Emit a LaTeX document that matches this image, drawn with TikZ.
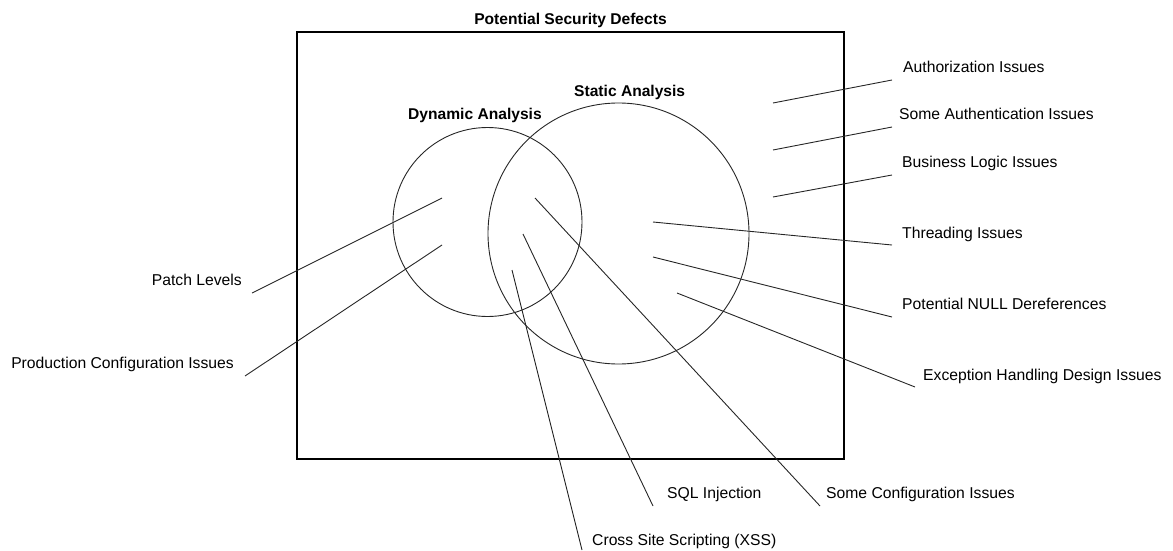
\documentclass[tikz,border=0pt]{standalone}
\usepackage{fontspec}
\setmainfont{Liberation Sans}
\begin{document}
\begin{tikzpicture}[x=1pt,y=-1pt,
  lbl/.style={inner sep=0pt,font=\fontsize{15.7}{18}\selectfont},
  lblw/.style={lbl,anchor=base west},
  lble/.style={lbl,anchor=base east},
  head/.style={lbl,font=\fontsize{15.6}{18}\selectfont\bfseries},
  frame/.style={draw=black,line width=1.3pt},
  ring/.style={draw=black!85,line width=0.9pt},
  leader/.style={draw=black!85,line width=0.9pt}]
  \useasboundingbox (0,0) rectangle (1173,551);

  % outer set and the two analysis circles
  \draw[frame] (297,32) rectangle (844,459);
  \node[head,anchor=base] (title) at (570.5,24.5) {Potential Security Defects};
  \draw[ring] (487.5,222) circle (94.5);
  \draw[ring] (618.5,233.5) circle (130.5);
  \node[head,anchor=base west] (static) at (574,96.5) {Static Analysis};
  \node[head,anchor=base west] (dynamic) at (408,119.5) {Dynamic Analysis};

  % labels on the right
  \node[lblw] (authz) at (903,72.5) {Authorization Issues};
  \node[lblw] (authn) at (899,119.5) {Some Authentication Issues};
  \node[lblw] (logic) at (902,167.5) {Business Logic Issues};
  \node[lblw] (thread) at (902,238.5) {Threading Issues};
  \node[lblw] (null) at (902,309.5) {Potential NULL Dereferences};
  \node[lblw] (except) at (923,380.5) {Exception Handling Design Issues};

  % labels on the left
  \node[lble] (patch) at (242,285.5) {Patch Levels};
  \node[lble] (prod) at (234,368.5) {Production Configuration Issues};

  % labels below
  \node[lblw] (sql) at (667,498.5) {SQL Injection};
  \node[lblw] (conf) at (826,498.5) {Some Configuration Issues};
  \node[lblw] (xss) at (592,545.5) {Cross Site Scripting (XSS)};

  % leader line end points
  \coordinate (authz-a) at (773,103);  \coordinate (authz-b) at (892,80);
  \coordinate (authn-a) at (773,150);  \coordinate (authn-b) at (892,127);
  \coordinate (logic-a) at (773,197);  \coordinate (logic-b) at (892,175);
  \coordinate (thread-a) at (653,222); \coordinate (thread-b) at (892,245);
  \coordinate (null-a) at (653,257);   \coordinate (null-b) at (892,317);
  \coordinate (except-a) at (677,293); \coordinate (except-b) at (915,387);
  \coordinate (patch-a) at (442,198);  \coordinate (patch-b) at (252,293);
  \coordinate (prod-a) at (442,245);   \coordinate (prod-b) at (245,376);
  \coordinate (conf-a) at (535,198);   \coordinate (conf-b) at (820,506);
  \coordinate (sql-a) at (523,234);    \coordinate (sql-b) at (653,506);
  \coordinate (xss-a) at (512,270);    \coordinate (xss-b) at (582,550);

  \foreach \n in {authz,authn,logic,thread,null,except,patch,prod,conf,sql,xss}
    \draw[leader] (\n-a) -- (\n-b);
\end{tikzpicture}
\end{document}
